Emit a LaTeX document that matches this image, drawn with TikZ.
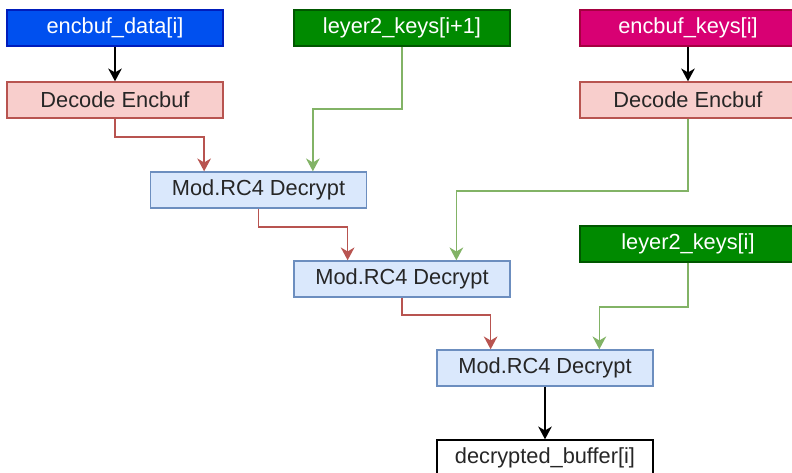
\documentclass[tikz,border=0pt]{standalone}
\usepackage{fontspec}
\setmainfont{Liberation Sans}
\usetikzlibrary{positioning, arrows.meta, calc}
\definecolor{keyblue}{HTML}{0050EF}
\definecolor{keybluedk}{HTML}{001DBC}
\definecolor{keygreen}{HTML}{008A00}
\definecolor{keygreendk}{HTML}{005700}
\definecolor{keypink}{HTML}{D80073}
\definecolor{keypinkdk}{HTML}{A50040}
\definecolor{decfill}{HTML}{F8CECC}
\definecolor{decline}{HTML}{B85450}
\definecolor{modfill}{HTML}{DAE8FC}
\definecolor{modline}{HTML}{6C8EBF}
\definecolor{linkgreen}{HTML}{82B366}

\begin{document}
\begin{tikzpicture}[
  x=0.025cm, y=-0.025cm,
  every node/.style={sharp corners},
  box/.style={
    rectangle, line width=1pt,
    font=\fontsize{15.5}{18}\selectfont,
    minimum width=5.4cm, minimum height=0.9cm,
    align=center, inner sep=0pt
  },
  inbox/.style={box, text=white},
  decbox/.style={box, fill=decfill, draw=decline, text=black!85},
  modbox/.style={box, fill=modfill, draw=modline, text=black!85},
  outbox/.style={box, fill=white, draw=black, text=black!85},
  arr/.style={-{Stealth[length=0.32cm, width=0.34cm, inset=0.1cm]}, line width=1.2pt},
  redarr/.style={arr, draw=decline},
  greenarr/.style={arr, draw=linkgreen}
]
\useasboundingbox (0,0) rectangle (792,473);

%% input buffers and keys (top row)
\node[inbox, fill=keyblue, draw=keybluedk] (data) at (115, 28) {encbuf\_data[i]};
\node[inbox, fill=keygreen, draw=keygreendk] (l2next) at (402, 28) {leyer2\_keys[i+1]};
\node[inbox, fill=keypink, draw=keypinkdk] (keys) at (688, 28) {encbuf\_keys[i]};

%% decode stage
\node[decbox] (dec_data) at (115, 100) {Decode Encbuf};
\node[decbox] (dec_keys) at (688, 100) {Decode Encbuf};

%% three decrypt passes
\node[modbox] (rc4_a) at (258.5, 190) {Mod.RC4 Decrypt};
\node[modbox] (rc4_b) at (402, 279) {Mod.RC4 Decrypt};
\node[inbox, fill=keygreen, draw=keygreendk] (l2cur) at (688, 244) {leyer2\_keys[i]};
\node[modbox] (rc4_c) at (545, 368) {Mod.RC4 Decrypt};

%% result
\node[outbox] (result) at (545, 458) {decrypted\_buffer[i]};

%% entry points on the decrypt boxes (data on the left quarter, key on the right)
\foreach \n in {rc4_a, rc4_b, rc4_c} {
  \coordinate (\n_in) at ($(\n.north west)!0.25!(\n.north east)$);
  \coordinate (\n_key) at ($(\n.north west)!0.75!(\n.north east)$);
}

\draw[arr] (data) -- (dec_data);
\draw[arr] (keys) -- (dec_keys);

%% data path
\draw[redarr] (dec_data.south) -- ++(0,18) -| (rc4_a_in);
\draw[redarr] (rc4_a.south) -- ++(0,18) -| (rc4_b_in);
\draw[redarr] (rc4_b.south) -- ++(0,17) -| (rc4_c_in);

%% key path
\draw[greenarr] (l2next.south) -- ++(0,62) -| (rc4_a_key);
\draw[greenarr] (dec_keys.south) -- ++(0,72) -| (rc4_b_key);
\draw[greenarr] (l2cur.south) -- ++(0,44) -| (rc4_c_key);

\draw[arr] (rc4_c) -- (result);

\end{tikzpicture}
\end{document}
